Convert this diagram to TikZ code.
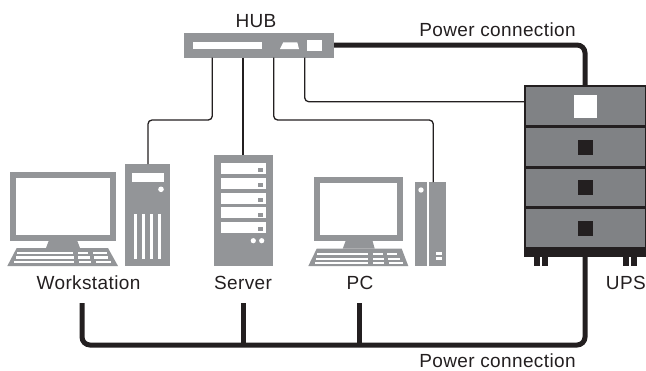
\documentclass[tikz,border=0pt]{standalone}
\usepackage{fontspec}
\setmainfont[LetterSpace=2]{Liberation Sans}
\definecolor{devgrey}{HTML}{939598}
\definecolor{upsgrey}{HTML}{808285}
\definecolor{ink}{HTML}{231F20}
\newcommand{\rct}[4]{\fill (#1,#2) rectangle (#3,#4);}
\tikzset{
  device/.style={fill=devgrey,draw=none,inner sep=0pt,outer sep=0pt,anchor=north west},
  thinline/.style={draw=ink,line width=1.3pt,rounded corners=4pt},
  powerline/.style={draw=ink,line width=5pt,rounded corners=8pt},
  label/.style={text=ink,inner sep=0pt,anchor=base,font=\fontsize{19}{21}\selectfont},
}
\begin{document}
\begin{tikzpicture}[x=1pt,y=-1pt]
\useasboundingbox (0,0) rectangle (646,370);
% devices
\node[device,minimum width=150pt,minimum height=24.7pt] (hub) at (184,33) {};
\node[device,minimum width=45pt,minimum height=102pt] (wstower) at (125,164) {};
\node[device,minimum width=59pt,minimum height=111pt] (server) at (214,155) {};
\node[device,minimum width=17pt,minimum height=84pt] (pctower) at (429,182) {};
\node[fill=ink,inner sep=0pt,outer sep=0pt,anchor=north west,minimum width=122pt,minimum height=172pt] (ups) at (524,85) {};
% anchors of connectors
\coordinate (hubA) at (212.3,57.7);
\coordinate (hubB) at (243,57.7);
\coordinate (hubC) at (273.7,57.7);
\coordinate (hubD) at (304.7,57.7);
\coordinate (wsIn) at (148,164);
\coordinate (pcIn) at (433.3,182);
\coordinate (upsIn) at (524,101.7);
\coordinate (hubP) at (334,45);
\coordinate (upsTop) at (585,85);
\coordinate (upsBot) at (585,257);
\coordinate (wsP) at (82,303);
\coordinate (srvP) at (243,303);
\coordinate (pcP) at (359,303);
% thin connectors
\draw[thinline] (hubA) -- (212.3,120) -- (148,120) -- (wsIn);
\draw[thinline] (hubB) -- (server.north -| hubB);
\draw[thinline] (hubC) -- (273.7,120) -- (433.3,120) -- (pcIn);
\draw[thinline] (hubD) -- (304.7,101.7) -- (upsIn);
% power
\draw[powerline] (hubP) -- (585,45) -- (upsTop);
\draw[powerline] (upsBot) -- (585,345) -- (82,345) -- (wsP);
\draw[draw=ink,line width=5pt] (srvP) -- (243,345);
\draw[draw=ink,line width=5pt] (pcP) -- (359,345);
% hub detail
\begin{scope}[fill=white]
\rct{192.7}{42}{262}{49}
\fill (283.3,42.3) -- (297.3,42.3) -- (299,49) -- (280,49) -- cycle;
\rct{306.7}{40}{322}{51}
\end{scope}
% workstation monitor
\begin{scope}[fill=devgrey]
\rct{9.5}{172}{116}{240.7}
\fill (49,240) -- (77,240) -- (80,248) -- (46,248) -- cycle;
\fill (16.7,248) -- (108,248) -- (118,266) -- (7.3,266) -- cycle;
% pc
\rct{314}{177.3}{402.7}{240.7}
\fill (346,240) -- (372.3,240) -- (374.7,248.7) -- (342.7,248.7) -- cycle;
\fill (316.7,248.7) -- (401.7,248.7) -- (408.3,266) -- (308.3,266) -- cycle;
\rct{415}{182}{427}{266}
\end{scope}
\begin{scope}[fill=white]
\rct{15.7}{178.3}{110}{234.7}
\rct{17.3}{251.7}{73.3}{254}
\rct{78.3}{251.7}{88.3}{254}
\rct{93.3}{251.7}{106.7}{254}
\rct{16}{256}{74}{258.7}
\rct{78.3}{256}{90}{258.7}
\rct{94.3}{256}{108.3}{258.7}
\rct{14.3}{260.7}{74.3}{263}
\rct{79}{260.7}{90.7}{263}
\rct{95.7}{260.7}{110.7}{263}
% ws tower
\rct{131.7}{172.7}{164}{182}
\fill (161,189.3) circle (2.8);
\rct{134}{214}{137}{259}
\rct{142}{214}{145}{259}
\rct{150}{214}{153}{259}
\rct{158}{214}{161}{259}
% server
\rct{220.7}{162.7}{266}{174}
\rct{220.7}{177.7}{266}{189}
\rct{220.7}{192.7}{266}{204}
\rct{220.7}{207.3}{266}{218.3}
\rct{220.7}{222}{266}{233}
\fill (253.3,240.7) circle (2.6);
\fill (261.7,240.7) circle (2.6);
% pc monitor
\rct{320}{183.3}{396.7}{234.7}
\rct{317.3}{253.3}{368.3}{255.3}
\rct{372.7}{253.3}{382.7}{255.3}
\rct{386.7}{253.3}{397.3}{255.3}
\rct{316}{257.5}{368.3}{259.5}
\rct{372.7}{257.5}{383.7}{259.5}
\rct{388}{257.5}{400}{259.5}
\rct{314.7}{261.7}{368.3}{263.7}
\rct{372.7}{261.7}{384.3}{263.7}
\rct{389}{261.7}{403}{263.7}
% pc tower
\fill (421,190) circle (2.7);
\rct{436.3}{251.7}{442}{255.3}
\rct{436.3}{257}{442}{260}
\end{scope}
\begin{scope}[fill=devgrey]
\rct{257.7}{167.7}{263.3}{172}
\rct{257.7}{182.7}{263.3}{187}
\rct{257.7}{197.7}{263.3}{202}
\rct{257.7}{212.7}{263.3}{217}
\rct{257.7}{227}{263.3}{231.3}
\end{scope}
% UPS
\begin{scope}[fill=upsgrey]
\rct{526}{87.3}{645}{125}
\rct{526}{127.7}{645}{166}
\rct{526}{169}{645}{206}
\rct{526}{209.3}{645}{246.7}
\end{scope}
\fill[white] (574,95) rectangle (597,118);
\begin{scope}[fill=ink]
\rct{578}{140}{593}{155}
\rct{578}{180}{593}{195}
\rct{578}{221}{593}{236}
\rct{534}{257}{540}{265.7}
\rct{542}{257}{548}{265.7}
\rct{623}{257}{629}{265.7}
\rct{631}{257}{637}{265.7}
\end{scope}
% labels
\node[label] (lhub) at (256,27.3) {HUB};
\node[label] (lp1) at (497.5,36) {Power connection};
\node[label] (lws) at (88.5,289.3) {Workstation};
\node[label] (lsrv) at (243,289.3) {Server};
\node[label] (lpc) at (360,289.3) {PC};
\node[label,anchor=base east] (lups) at (646,289.3) {UPS};
\node[label] (lp2) at (497.5,367) {Power connection};
\end{tikzpicture}
\end{document}
